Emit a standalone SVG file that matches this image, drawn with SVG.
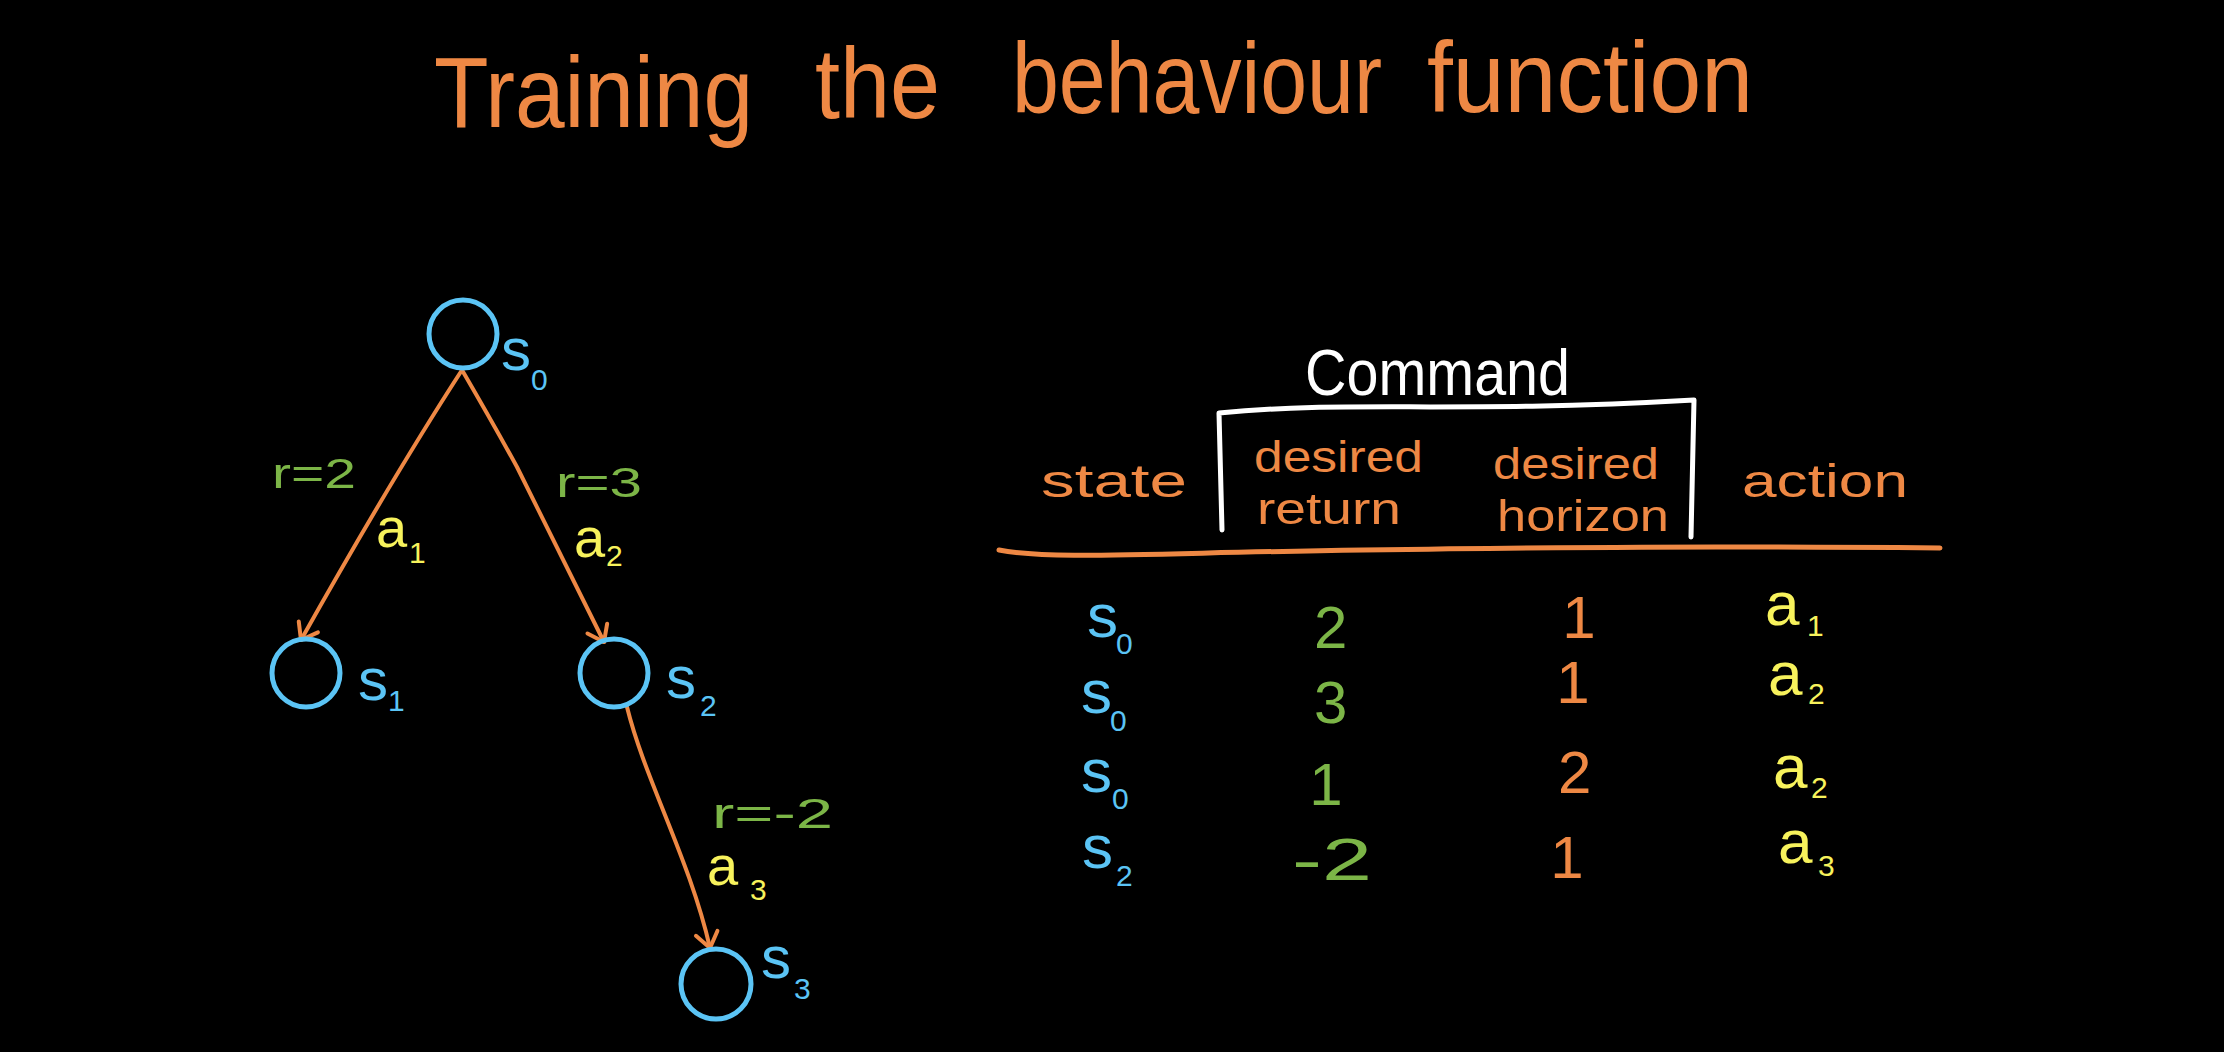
<svg xmlns="http://www.w3.org/2000/svg" width="2224" height="1052" viewBox="0 0 2224 1052">
<style>
text{font-family:"Liberation Sans",Arial,sans-serif}
.o{fill:#EE8844}.b{fill:#5BC4F5}.g{fill:#7CB547}.y{fill:#F7F25C}.w{fill:#FFFFFF}
.nc{fill:none;stroke:#5BC4F5;stroke-width:5}
.edge{fill:none;stroke:#EE8844;stroke-width:4;stroke-linecap:round;stroke-linejoin:round}
.s{font-size:60px}.ts{font-size:62px}.sub{font-size:30px}.rl{font-size:42px}.al{font-size:56px}.ta{font-size:62px}
.hd{font-size:47px}.hd2{font-size:44px}.num{font-size:60px}
</style>
<defs>
<marker id="arr" markerUnits="userSpaceOnUse" orient="auto" refX="0" refY="0" markerWidth="40" markerHeight="40" viewBox="-20 -20 40 40" overflow="visible">
<path d="M -15 -11 L 0 0 L -15 11" fill="none" stroke="#EE8844" stroke-width="4" stroke-linecap="round" stroke-linejoin="round"/>
</marker>
</defs>
<rect x="0" y="0" width="2224" height="1052" fill="#000"/>

<text id="title" class="o" font-size="100"><tspan x="434" y="127" textLength="319" lengthAdjust="spacingAndGlyphs">Training</tspan> <tspan x="815" y="118" textLength="125" lengthAdjust="spacingAndGlyphs">the</tspan> <tspan x="1012" y="113" textLength="370" lengthAdjust="spacingAndGlyphs">behaviour</tspan> <tspan x="1427" y="112" textLength="326" lengthAdjust="spacingAndGlyphs">function</tspan></text>

<g id="connectors">
<path class="edge" d="M 462 370 Q 392 478 301 640" marker-end="url(#arr)"/>
<path class="edge" d="M 462 370 Q 494 425 517 467 L 604 642" marker-end="url(#arr)"/>
<path class="edge" d="M 627 707 C 645 780, 690 860, 710 948" marker-end="url(#arr)"/>
<text class="g rl" x="272" y="488" textLength="84" lengthAdjust="spacingAndGlyphs">r=2</text>
<text class="y al" x="376" y="547">a<tspan class="sub" x="409" y="563">1</tspan></text>
<text class="g rl" x="556" y="497" textLength="86" lengthAdjust="spacingAndGlyphs">r=3</text>
<text class="y al" x="574" y="557">a<tspan class="sub" x="606" y="566">2</tspan></text>
<text class="g rl" x="712" y="828" textLength="121" lengthAdjust="spacingAndGlyphs">r=-2</text>
<text class="y al" x="707" y="885">a<tspan class="sub" x="750" y="900">3</tspan></text>
</g>

<g id="s0"><circle class="nc" cx="463" cy="334" r="34"/><text class="b s" x="501" y="370">s<tspan class="sub" x="531" y="390">0</tspan></text></g>
<g id="s1"><circle class="nc" cx="306" cy="673" r="34"/><text class="b s" x="358" y="700">s<tspan class="sub" x="388" y="711">1</tspan></text></g>
<g id="s2"><circle class="nc" cx="614" cy="673" r="34"/><text class="b s" x="666" y="698">s<tspan class="sub" x="700" y="716">2</tspan></text></g>
<g id="s3"><circle class="nc" cx="716" cy="984" r="35"/><text class="b s" x="761" y="978">s<tspan class="sub" x="794" y="999">3</tspan></text></g>

<g id="table">
<text class="w" font-size="64" x="1305" y="395" textLength="265" lengthAdjust="spacingAndGlyphs">Command</text>
<path d="M 1222 530 L 1219 413 C 1350 400, 1450 414, 1694 400 L 1691 537" fill="none" stroke="#FFFFFF" stroke-width="5" stroke-linecap="round" stroke-linejoin="round"/>
<text class="o hd" x="1041" y="497" textLength="146" lengthAdjust="spacingAndGlyphs">state</text>
<text class="o hd2" x="1254" y="472" textLength="169" lengthAdjust="spacingAndGlyphs">desired</text>
<text class="o hd2" x="1257" y="524" textLength="144" lengthAdjust="spacingAndGlyphs">return</text>
<text class="o hd2" x="1493" y="479" textLength="166" lengthAdjust="spacingAndGlyphs">desired</text>
<text class="o hd2" x="1497" y="531" textLength="172" lengthAdjust="spacingAndGlyphs">horizon</text>
<text class="o hd" x="1742" y="497" textLength="166" lengthAdjust="spacingAndGlyphs">action</text>
<path d="M 999 550 C 1050 560, 1150 553, 1363 550 S 1700 546, 1940 548" fill="none" stroke="#EE8844" stroke-width="5" stroke-linecap="round"/>

<g id="row1">
<text class="b ts" x="1087" y="637">s<tspan class="sub" x="1116" y="654">0</tspan></text>
<text class="g num" x="1314" y="648">2</text>
<text class="o num" x="1579" y="638" text-anchor="middle">1</text>
<text class="y ta" x="1765" y="625">a<tspan class="sub" x="1807" y="636">1</tspan></text>
</g>
<g id="row2">
<text class="b ts" x="1081" y="713">s<tspan class="sub" x="1110" y="731">0</tspan></text>
<text class="g num" x="1314" y="723">3</text>
<text class="o num" x="1573" y="703" text-anchor="middle">1</text>
<text class="y ta" x="1768" y="695">a<tspan class="sub" x="1808" y="704">2</tspan></text>
</g>
<g id="row3">
<text class="b ts" x="1081" y="792">s<tspan class="sub" x="1112" y="809">0</tspan></text>
<text class="g num" x="1326" y="805" text-anchor="middle">1</text>
<text class="o num" x="1558" y="793">2</text>
<text class="y ta" x="1773" y="788">a<tspan class="sub" x="1811" y="798">2</tspan></text>
</g>
<g id="row4">
<text class="b ts" x="1082" y="868">s<tspan class="sub" x="1116" y="886">2</tspan></text>
<text class="g num" x="1292" y="880" textLength="80" lengthAdjust="spacingAndGlyphs">-2</text>
<text class="o num" x="1567" y="878" text-anchor="middle">1</text>
<text class="y ta" x="1778" y="863">a<tspan class="sub" x="1818" y="876">3</tspan></text>
</g>
</g>
</svg>
